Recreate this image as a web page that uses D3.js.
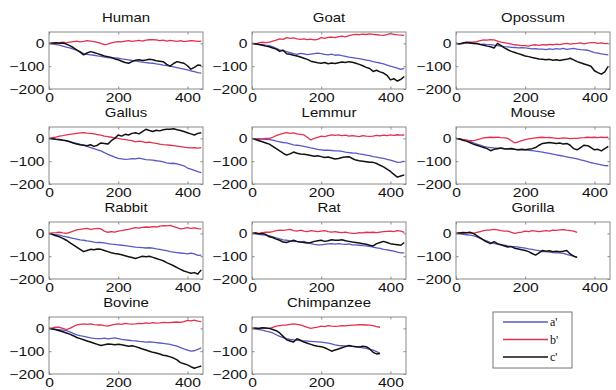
<!DOCTYPE html>
<html><head><meta charset="utf-8">
<script src="https://cdn.jsdelivr.net/npm/d3@7"></script>
<style>body{margin:0;background:#fff}svg{display:block}</style>
</head><body>
<script>
const STEP = 10;
const xTicks = [0, 200, 400];
const yTicks = [0, -100, -200];
const seriesNames = ["a'", "b'", "c'"];
const panelNames = ["Human","Goat","Opossum","Gallus","Lemmur","Mouse","Rabbit","Rat","Gorilla","Bovine","Chimpanzee"];

const humanA = [0,-2,-5,-8,-12,-16,-20,-25,-30,-36,-45,-48,-50,-52,-55,-57,-60,-62,-63,-64,-65,-68,-70,-72,-75,-77,-80,-82,-84,-86,-87,-90,-92,-95,-97,-100,-103,-106,-110,-113,-116,-120,-124,-128,-130];
const humanB = [0,-2,1,3,5,2,6,8,10,7,9,12,10,8,4,0,-5,-3,2,6,8,7,10,12,9,11,13,10,14,16,17,15,12,14,10,13,11,9,12,8,10,12,11,9,10];
const humanC = [0,2,3,1,2,-3,-10,-18,-28,-38,-50,-42,-36,-40,-45,-50,-55,-58,-62,-68,-72,-78,-84,-87,-80,-74,-72,-75,-73,-70,-72,-76,-78,-80,-92,-100,-88,-80,-84,-87,-98,-113,-105,-95,-97];

const goatA = [0,-2,-4,-5,-8,-10,-15,-22,-28,-32,-36,-40,-45,-48,-44,-46,-49,-47,-45,-43,-45,-48,-50,-47,-52,-50,-54,-57,-60,-62,-65,-67,-70,-73,-76,-80,-83,-86,-90,-95,-100,-104,-108,-114,-110];
const goatB = [0,-3,2,5,3,6,10,14,20,18,25,22,24,20,18,20,17,19,15,18,25,22,26,28,25,30,32,29,34,37,40,38,41,39,42,40,38,36,35,38,43,40,37,36,35];
const goatC = [0,-2,-5,-8,-12,-15,-20,-25,-35,-30,-45,-48,-52,-55,-60,-65,-70,-78,-82,-85,-87,-84,-89,-86,-88,-85,-82,-84,-80,-83,-87,-92,-98,-105,-110,-123,-118,-125,-130,-140,-160,-155,-165,-158,-145];

const opossumA = [0,-2,-1,2,0,0,-2,-4,-3,-5,-5,-8,-10,-12,-14,-15,-17,-18,-20,-19,-20,-22,-24,-23,-25,-25,-27,-24,-26,-23,-25,-22,-26,-24,-22,-25,-27,-28,-30,-35,-40,-43,-46,-48,-50];
const opossumB = [0,-2,0,3,5,5,8,12,15,14,17,15,10,6,3,0,-3,-6,-8,-10,-10,-12,-8,-6,-9,-5,-7,-4,-6,-3,-5,-2,0,-3,-1,0,2,-2,1,3,3,0,2,-1,0];
const opossumC = [0,-2,2,5,3,0,0,-5,-8,-12,-15,-20,0,-10,-20,-28,-35,-40,-45,-50,-55,-58,-62,-65,-68,-70,-72,-70,-74,-72,-75,-72,-70,-65,-72,-80,-85,-90,-95,-100,-120,-128,-135,-125,-100];

const gallusA = [0,-2,-4,-6,-8,-10,-14,-18,-22,-26,-30,-35,-40,-45,-50,-55,-62,-70,-76,-82,-88,-90,-92,-91,-89,-90,-87,-90,-93,-94,-95,-98,-100,-103,-107,-110,-109,-112,-116,-120,-130,-135,-140,-146,-150];
const gallusB = [0,3,6,10,12,15,18,20,22,24,25,23,22,20,17,14,10,8,5,2,0,-3,-5,-8,-10,-15,-12,-14,-18,-16,-20,-22,-25,-27,-28,-30,-32,-34,-36,-38,-40,-42,-41,-43,-40];
const gallusC = [0,-2,-4,-5,-8,-10,-15,-20,-25,-28,-30,-32,-28,-35,-30,-20,-22,-25,-10,0,15,10,18,15,22,25,20,30,40,35,30,36,33,38,40,40,42,38,35,30,25,20,15,22,25];

const lemmurA = [0,-2,-1,-3,-4,-5,-8,-12,-15,-18,-20,-24,-28,-30,-32,-35,-38,-42,-45,-48,-50,-52,-51,-53,-55,-55,-57,-60,-62,-64,-65,-68,-70,-73,-76,-80,-82,-85,-88,-92,-95,-100,-105,-104,-100];
const lemmurB = [0,-3,-5,-2,0,0,5,12,18,22,25,22,24,20,18,15,5,-7,0,5,10,8,12,15,13,15,12,14,10,12,10,8,12,10,9,10,13,11,14,12,15,13,16,14,15];
const lemmurC = [0,-5,-10,-15,-20,-25,-35,-45,-55,-65,-73,-68,-60,-65,-68,-70,-72,-75,-78,-76,-80,-84,-82,-86,-90,-88,-84,-82,-80,-88,-95,-98,-100,-102,-105,-105,-110,-118,-125,-135,-145,-158,-170,-165,-160];

const mouseA = [0,-2,-5,-8,-12,-20,-25,-30,-35,-38,-40,-42,-43,-44,-46,-45,-47,-48,-50,-49,-50,-52,-54,-56,-58,-60,-63,-66,-69,-72,-75,-78,-81,-84,-87,-90,-94,-98,-102,-106,-110,-113,-116,-119,-120];
const mouseB = [0,-2,-5,-8,-10,-10,-6,-2,2,4,5,4,6,3,2,0,-10,-20,-15,-10,-5,-2,0,2,4,5,3,4,2,0,0,2,1,-1,0,0,2,3,5,4,5,3,6,4,5];
const mouseC = [0,-3,-8,-12,-18,-25,-30,-35,-40,-45,-54,-48,-45,-42,-45,-46,-44,-48,-50,-48,-50,-47,-45,-40,-30,-22,-20,-18,-20,-22,-20,-25,-22,-30,-45,-50,-40,-30,-32,-40,-50,-48,-55,-45,-35];

const rabbitA = [0,-3,-5,-8,-12,-15,-18,-22,-25,-28,-30,-33,-35,-38,-40,-40,-42,-45,-47,-48,-50,-52,-54,-56,-58,-60,-61,-62,-64,-63,-65,-68,-70,-73,-76,-80,-82,-84,-86,-88,-90,-86,-90,-96,-95];
const rabbitB = [0,2,3,5,2,0,5,10,15,18,20,22,18,20,22,20,10,5,8,6,10,12,15,18,22,25,23,26,28,27,30,28,32,34,33,35,30,25,20,22,25,22,24,21,20];
const rabbitC = [0,-5,-10,-15,-22,-30,-40,-50,-60,-70,-80,-75,-70,-72,-68,-70,-75,-80,-85,-88,-90,-94,-98,-102,-106,-110,-105,-100,-102,-100,-105,-110,-115,-120,-128,-135,-142,-150,-158,-165,-170,-175,-172,-178,-160];

const ratA = [0,-2,-4,-6,-8,-10,-15,-20,-24,-28,-30,-33,-35,-36,-38,-35,-40,-45,-48,-50,-50,-48,-46,-45,-47,-45,-47,-48,-46,-50,-50,-52,-54,-55,-57,-60,-63,-66,-70,-72,-75,-78,-82,-85,-85];
const ratB = [0,2,0,3,5,5,8,12,14,13,15,18,12,10,14,10,8,12,10,8,10,12,8,6,8,5,3,6,2,0,0,3,2,5,4,5,3,6,8,9,10,8,12,10,5];
const ratC = [0,2,-2,0,-5,-15,-18,-25,-30,-38,-40,-35,-30,-35,-38,-40,-42,-40,-35,-32,-30,-35,-32,-28,-30,-30,-28,-32,-35,-38,-40,-42,-45,-48,-52,-55,-45,-40,-35,-40,-45,-48,-50,-52,-40];

const gorillaA = [0,-2,-4,-6,-8,-10,-15,-22,-28,-34,-40,-44,-48,-50,-52,-55,-57,-58,-60,-62,-65,-68,-70,-73,-76,-80,-80,-82,-84,-85,-85,-88,-92,-96,-100,-105];
const gorillaB = [0,2,0,3,2,0,4,8,12,14,15,18,15,12,10,10,5,0,3,6,10,8,12,10,8,10,12,10,14,13,15,17,14,12,10,5];
const gorillaC = [0,2,4,3,5,0,-10,-20,-30,-38,-45,-36,-45,-50,-55,-60,-58,-65,-68,-72,-75,-80,-88,-95,-85,-75,-78,-76,-80,-78,-80,-78,-75,-90,-100,-105];

const bovineA = [0,-2,-4,-6,-8,-10,-15,-22,-28,-32,-35,-38,-42,-44,-45,-45,-43,-46,-44,-42,-45,-48,-50,-52,-54,-55,-57,-58,-60,-59,-60,-62,-64,-66,-68,-70,-74,-78,-84,-90,-95,-100,-98,-92,-85];
const bovineB = [0,2,5,5,0,-5,0,8,15,18,20,18,20,17,15,15,12,10,14,18,20,18,22,20,19,20,22,21,24,22,25,23,24,26,25,25,27,28,26,30,35,33,36,32,30];
const bovineC = [0,-3,-6,-10,-15,-20,-25,-32,-40,-45,-50,-55,-60,-65,-70,-75,-72,-68,-70,-72,-70,-72,-75,-78,-76,-80,-85,-90,-95,-100,-105,-108,-112,-118,-120,-125,-130,-138,-150,-155,-160,-168,-175,-170,-165];

const chimpA = [0,-2,-5,-8,-12,-15,-20,-28,-35,-40,-45,-48,-50,-52,-54,-55,-56,-57,-58,-59,-60,-62,-65,-68,-72,-75,-76,-77,-78,-79,-80,-82,-85,-88,-92,-95,-102,-110];
const chimpB = [0,-2,0,2,0,0,5,10,12,14,15,18,20,18,15,10,5,0,3,6,10,8,12,10,9,10,12,11,13,14,15,17,16,15,14,12,8,5];
const chimpC = [0,2,0,3,2,0,-5,-10,-20,-35,-50,-55,-60,-45,-52,-60,-65,-70,-75,-78,-80,-85,-92,-100,-95,-90,-85,-80,-75,-78,-80,-82,-78,-80,-90,-105,-112,-110];

const panelData = [
  [humanA, humanB, humanC], [goatA, goatB, goatC], [opossumA, opossumB, opossumC],
  [gallusA, gallusB, gallusC], [lemmurA, lemmurB, lemmurC], [mouseA, mouseB, mouseC],
  [rabbitA, rabbitB, rabbitC], [ratA, ratB, ratC], [gorillaA, gorillaB, gorillaC],
  [bovineA, bovineB, bovineC], [chimpA, chimpB, chimpC]
];

const colors = ["#5858c6", "#e5304c", "#111111"];
const widths = [1.3, 1.3, 1.5];

const W = 616, H = 390;
const svg = d3.select("body").append("svg").attr("width", W).attr("height", H);

const colLeft = [49, 252, 456];
const rowTop = [32, 127, 222, 317];
const pw = 154, ph = 57;
const FONT = "Liberation Sans, Arial, Helvetica, sans-serif";
const SX = 1.25;

const x = d3.scaleLinear().domain([0, 445]).range([0, pw]);
const y = d3.scaleLinear().domain([-200, 50]).range([ph, 0]);
const line = d3.line().x((d, i) => x(i * STEP)).y(d => y(d));
const fmt = d => (d < 0 ? "\u2212" + Math.abs(d) : String(d));

panelNames.forEach((name, k) => {
  const r = Math.floor(k / 3), c = k % 3;
  const g = svg.append("g").attr("transform", `translate(${colLeft[c]},${rowTop[r]})`);
  g.append("rect").attr("width", pw).attr("height", ph).attr("fill", "#fff");

  panelData[k].forEach((arr, s) => {
    g.append("path").datum(arr).attr("d", line).attr("fill", "none")
      .attr("stroke", colors[s]).attr("stroke-width", widths[s]).attr("stroke-linejoin", "round");
  });

  const tickStyle = sel => {
    sel.select(".domain").remove();
    sel.selectAll(".tick line").attr("stroke", "#888");
    sel.selectAll(".tick text").attr("font-family", FONT)
      .attr("font-size", 12.5).attr("fill", "#111")
      .each(function () {
        const t = d3.select(this);
        const xx = +t.attr("x") || 0;
        t.attr("x", xx / SX).attr("transform", `scale(${SX},1)`);
      });
  };
  g.append("g").attr("transform", `translate(0,${ph})`)
    .call(d3.axisBottom(x).tickValues(xTicks).tickSize(-2.5).tickPadding(4).tickFormat(fmt))
    .call(tickStyle);
  g.append("g").call(d3.axisTop(x).tickValues(xTicks).tickSize(-2.5).tickFormat(""))
    .call(tickStyle);
  g.append("g")
    .call(d3.axisLeft(y).tickValues(yTicks).tickSize(-2.5).tickPadding(4.5).tickFormat(fmt))
    .call(tickStyle);
  g.append("g").attr("transform", `translate(${pw},0)`)
    .call(d3.axisRight(y).tickValues(yTicks).tickSize(-2.5).tickFormat(""))
    .call(tickStyle);

  g.append("rect").attr("width", pw).attr("height", ph).attr("fill", "none")
    .attr("stroke", "#8a8a8a").attr("stroke-width", 1);

  g.append("text").attr("transform", `translate(${pw / 2},-10) scale(1.15,1)`).attr("text-anchor", "middle")
    .attr("font-family", FONT).attr("font-size", 13).attr("fill", "#111")
    .text(name);
});

// legend
const lg = svg.append("g").attr("transform", "translate(493,312)");
lg.append("rect").attr("width", 79).attr("height", 56).attr("fill", "#fff").attr("stroke", "#777");
seriesNames.forEach((n, i) => {
  const yy = 10 + i * 17.5;
  lg.append("line").attr("x1", 10).attr("x2", 55).attr("y1", yy).attr("y2", yy)
    .attr("stroke", colors[i]).attr("stroke-width", 1.4);
  lg.append("text").attr("x", 57).attr("y", yy + 4).attr("font-family", "Liberation Serif, Times New Roman, serif")
    .attr("font-size", 12).attr("fill", "#111").text(n);
});
</script>
</body></html>
